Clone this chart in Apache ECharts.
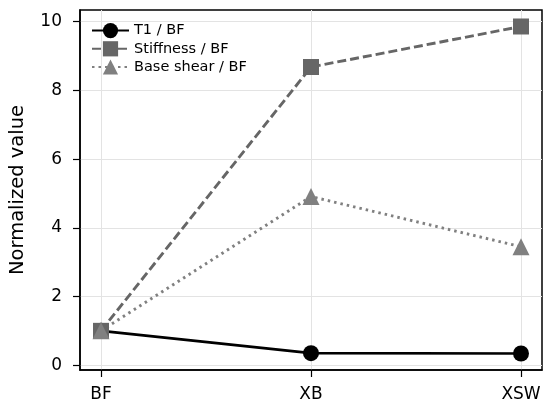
<!DOCTYPE html>
<html>
<head>
<meta charset="utf-8">
<script src="https://cdn.jsdelivr.net/npm/echarts@6/dist/echarts.min.js"></script>
<style>
    html, body { margin: 0; padding: 0; background: #fff; }
    #chart { width: 543px; height: 408px; }
</style>
</head>
<body>
<div id="chart"></div>
<script>
// x positions are the index of each configuration
var categories = ['BF', 'XB', 'XSW'];
var t1Ratio = [1.0, 0.35, 0.34];
var stiffnessRatio = [1.0, 8.68, 9.86];
var baseShearRatio = [1.0, 4.91, 3.45];
var yTicks = [0, 2, 4, 6, 8, 10];

var FONT = 'DejaVu Sans';

function toPoints(values) {
    var pts = [];
    for (var i = 0; i < values.length; i++)
        pts.push([i, values[i]]);
    return pts;
}

var chart = echarts.init(document.getElementById('chart'));

chart.setOption({
    animation: false,
    backgroundColor: '#fff',
    grid: {
        left: 80,
        right: 1,
        top: 10,
        bottom: 38,
        outerBoundsMode: 'none',
        containLabel: false,
        show: true,
        borderColor: '#000',
        borderWidth: 1.5
    },
    legend: {
        orient: 'vertical',
        left: 86,
        top: 18,
        itemWidth: 37,
        itemHeight: 19,
        itemGap: 3,
        textStyle: { fontFamily: FONT, fontSize: 14.5, color: '#000' },
        data: ['T1 / BF', 'Stiffness / BF', 'Base shear / BF']
    },
    xAxis: {
        type: 'value',
        min: -0.1,
        max: 2.1,
        axisLine: { show: true, onZero: false, lineStyle: { color: '#000', width: 1.5 } },
        axisTick: { show: true, length: 7, customValues: [0, 1, 2], lineStyle: { color: '#000', width: 1.2 } },
        axisLabel: {
            customValues: [0, 1, 2],
            formatter: function(v) { return categories[Math.round(v)]; },
            fontFamily: FONT,
            fontSize: 17,
            color: '#000',
            margin: 16
        },
        splitLine: { show: true, lineStyle: { color: '#e3e3e3', width: 1 } }
    },
    yAxis: {
        type: 'value',
        min: -0.14,
        max: 10.34,
        name: 'Normalized value',
        nameLocation: 'middle',
        nameGap: 52,
        nameTextStyle: { fontFamily: FONT, fontSize: 19.5, color: '#000' },
        axisLine: { show: true, onZero: false, lineStyle: { color: '#000', width: 1.5 } },
        axisTick: { show: true, length: 7, customValues: yTicks, lineStyle: { color: '#000', width: 1.2 } },
        axisLabel: {
            customValues: yTicks,
            fontFamily: FONT,
            fontSize: 17,
            color: '#000',
            margin: 18
        },
        splitLine: { show: true, lineStyle: { color: '#e3e3e3', width: 1 } }
    },
    series: [
        {
            name: 'T1 / BF',
            type: 'line',
            data: toPoints(t1Ratio),
            symbol: 'circle',
            symbolSize: 16,
            itemStyle: { color: '#000' },
            lineStyle: { color: '#000', width: 2.7 }
        },
        {
            name: 'Stiffness / BF',
            type: 'line',
            data: toPoints(stiffnessRatio),
            symbol: 'rect',
            symbolSize: 16,
            itemStyle: { color: '#666666' },
            lineStyle: { color: '#666666', width: 2.9, type: [9, 4] }
        },
        {
            name: 'Base shear / BF',
            type: 'line',
            data: toPoints(baseShearRatio),
            symbol: 'triangle',
            symbolSize: 17,
            itemStyle: { color: '#808080' },
            lineStyle: { color: '#808080', width: 2.9, type: [2.5, 4] }
        }
    ]
});
</script>
</body>
</html>
